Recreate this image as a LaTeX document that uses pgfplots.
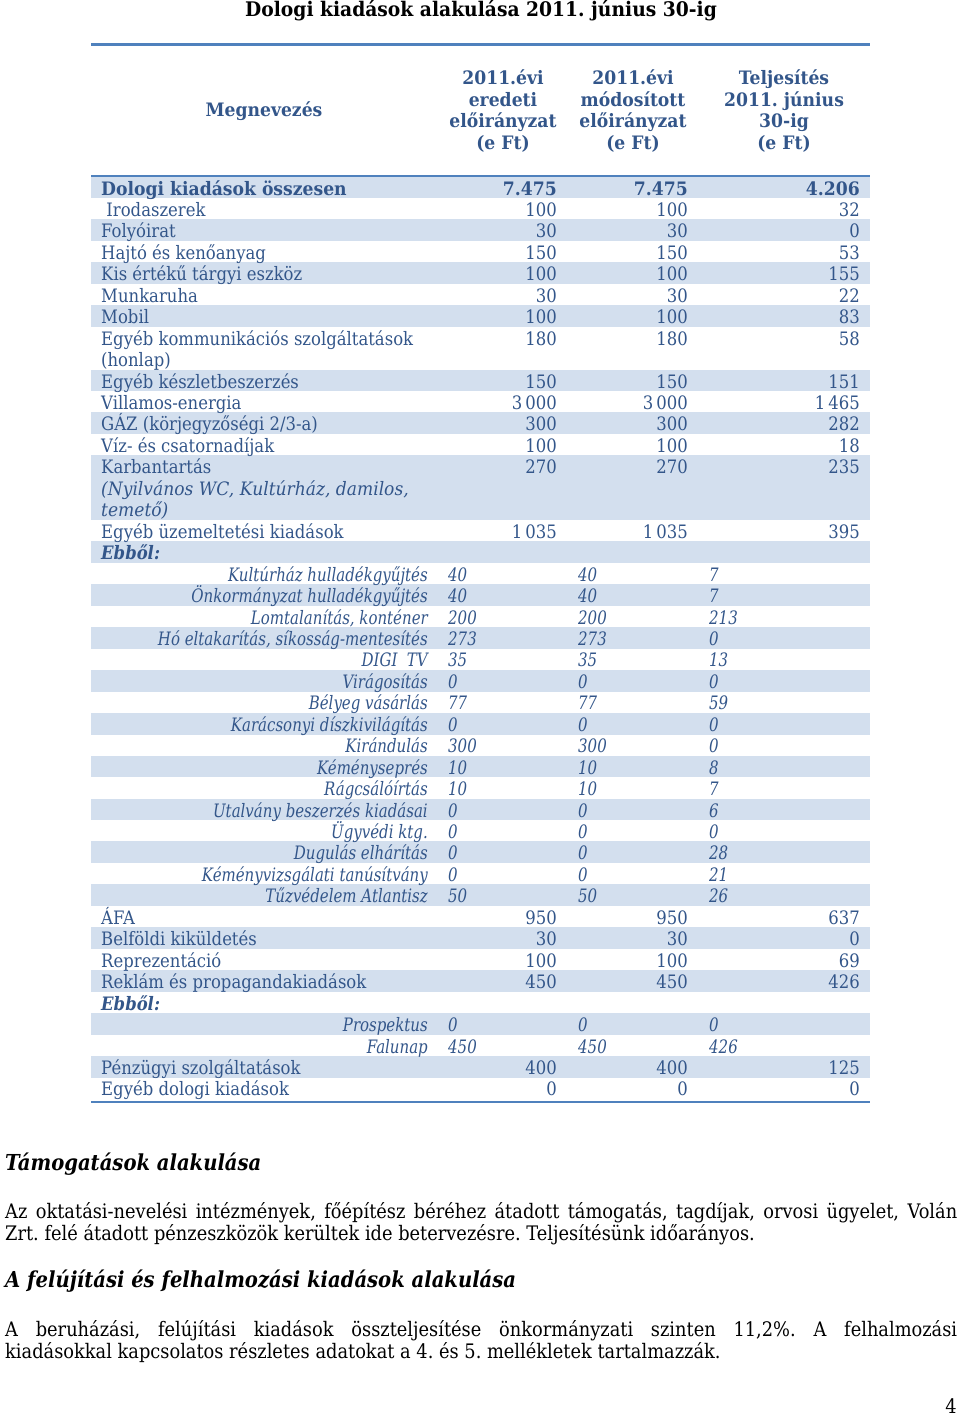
\documentclass[border=0pt]{standalone}
\usepackage{fontspec}
\setmainfont{DejaVu Serif}[
  UprightFeatures={FakeStretch=0.89},
  BoldFeatures={FakeStretch=0.93},
  ItalicFeatures={FakeStretch=0.81},
  BoldItalicFeatures={FakeStretch=0.89}]
\newfontfamily\itwide{DejaVu Serif}[FakeStretch=0.925]
\usepackage{pgfplots}
\usepackage{pgfplotstable}
\pgfplotsset{compat=1.18}
\definecolor{tblue}{HTML}{33568A}
\definecolor{tline}{HTML}{4F81BD}
\definecolor{rowshade}{HTML}{D3DFEE}
\newcommand\tf{\fontsize{18.5}{21.5}\selectfont}
\newcommand\pf{\fontsize{20}{23}\selectfont}
\frenchspacing

% main rows: line index and name
\pgfplotstableread[col sep=semicolon]{
n;name
1;\ Irodaszerek
2;Folyóirat
3;Hajtó és kenőanyag
4;Kis értékű tárgyi eszköz
5;Munkaruha
6;Mobil
7;Egyéb kommunikációs szolgáltatások
8;(honlap)
9;Egyéb készletbeszerzés
10;Villamos-energia
11;GÁZ (körjegyzőségi 2/3-a)
12;Víz- és csatornadíjak
13;Karbantartás
16;Egyéb üzemeltetési kiadások
34;ÁFA
35;Belföldi kiküldetés
36;Reprezentáció
37;Reklám és propagandakiadások
41;Pénzügyi szolgáltatások
42;Egyéb dologi kiadások
}\mainnames

\pgfplotstableread[col sep=semicolon]{
n;a;b;c
1;100;100;32
2;30;30;0
3;150;150;53
4;100;100;155
5;30;30;22
6;100;100;83
7;180;180;58
9;150;150;151
10;3\,000;3\,000;1\,465
11;300;300;282
12;100;100;18
13;270;270;235
16;1\,035;1\,035;395
34;950;950;637
35;30;30;0
36;100;100;69
37;450;450;426
41;400;400;125
42;0;0;0
}\mainvals

\pgfplotstableread[col sep=semicolon]{
n;name;a;b;c
0;Dologi kiadások összesen;7.475;7.475;4.206
}\total

\pgfplotstableread[col sep=semicolon]{
n;name
14;(Nyilvános WC, Kultúrház, damilos,
15;temető)
}\itnames

\pgfplotstableread[col sep=semicolon]{
n;name
17;Ebből:
38;Ebből:
}\ebbol

\pgfplotstableread[col sep=semicolon]{
n;name;a;b;c
18;Kultúrház hulladékgyűjtés;40;40;7
19;Önkormányzat hulladékgyűjtés;40;40;7
20;Lomtalanítás, konténer;200;200;213
21;Hó eltakarítás, síkosság-mentesítés;273;273;0
22;DIGI\ \ TV;35;35;13
23;Virágosítás;0;0;0
24;Bélyeg vásárlás;77;77;59
25;Karácsonyi díszkivilágítás;0;0;0
26;Kirándulás;300;300;0
27;Kéményseprés;10;10;8
28;Rágcsálóírtás;10;10;7
29;Utalvány beszerzés kiadásai;0;0;6
30;Ügyvédi ktg.;0;0;0
31;Dugulás elhárítás;0;0;28
32;Kéményvizsgálati tanúsítvány;0;0;21
33;Tűzvédelem Atlantisz;50;50;26
39;Prospektus;0;0;0
40;Falunap;450;450;426
}\subrows

\pgfplotsset{
  txt/.style 2 args={draw=none, mark=none, forget plot,
    point meta=explicit symbolic, nodes near coords,
    nodes near coords style={font={\tf#2}, text=tblue, anchor=#1, inner sep=0pt}},
}

\begin{document}
\begin{tikzpicture}
\begin{axis}[
  width=960pt, height=1418pt, scale only axis,
  xmin=0, xmax=960, ymin=0, ymax=1418, y dir=reverse,
  hide axis, clip=false,
]
\path (axis cs:0,0) rectangle (axis cs:960,1418);

% striped rows
\pgfplotsinvokeforeach{0,2,4,6,9,11,13,14,15,17,19,21,23,25,27,29,31,33,35,37,39,41}{
  \fill[rowshade] (axis cs:91,{176.5+21.45*#1}) rectangle (axis cs:870,{176.5+21.45*(#1+1)+0.3});
}

% rules
\draw[tline, line width=2.5pt] (axis cs:91,44.5) -- (axis cs:870,44.5);
\draw[tline, line width=2pt] (axis cs:91,175.5) -- (axis cs:870,175.5);
\draw[tline, line width=2pt] (axis cs:91,1101.5) -- (axis cs:870,1101.5);

% title
\node[anchor=base, inner sep=0pt, font={\fontsize{20.1}{24}\selectfont\bfseries}] at (axis cs:481,17) {Dologi kiadások alakulása 2011. június 30-ig};

% header
\begin{scope}[every node/.style={anchor=base, inner sep=0pt, text=tblue, font={\tf\bfseries}}]
\node at (axis cs:264,117) {Megnevezés};
\node at (axis cs:503,85) {2011.évi};
\node at (axis cs:503,106.5) {eredeti};
\node at (axis cs:503,128) {előirányzat};
\node at (axis cs:503,149.5) {(e Ft)};
\node at (axis cs:633,85) {2011.évi};
\node at (axis cs:633,106.5) {módosított};
\node at (axis cs:633,128) {előirányzat};
\node at (axis cs:633,149.5) {(e Ft)};
\node at (axis cs:784,85) {Teljesítés};
\node at (axis cs:784,106.5) {2011. június};
\node at (axis cs:784,128) {30-ig};
\node at (axis cs:784,149.5) {(e Ft)};
\end{scope}

% total row
\addplot[txt={base west}{\bfseries}] table[x expr=101, y expr={195+21.45*\thisrow{n}}, meta=name] {\total};
\addplot[txt={base east}{\bfseries}] table[x expr=557, y expr={195+21.45*\thisrow{n}}, meta=a] {\total};
\addplot[txt={base east}{\bfseries}] table[x expr=688, y expr={195+21.45*\thisrow{n}}, meta=b] {\total};
\addplot[txt={base east}{\bfseries}] table[x expr=860, y expr={195+21.45*\thisrow{n}}, meta=c] {\total};

% main rows
\addplot[txt={base west}{}] table[x expr=101, y expr={195+21.45*\thisrow{n}}, meta=name] {\mainnames};
\addplot[txt={base west}{\itwide\itshape}] table[x expr=101, y expr={195+21.45*\thisrow{n}}, meta=name] {\itnames};
\addplot[txt={base west}{\bfseries\itshape}] table[x expr=101, y expr={195+21.45*\thisrow{n}}, meta=name] {\ebbol};
\addplot[txt={base east}{}] table[x expr=557, y expr={195+21.45*\thisrow{n}}, meta=a] {\mainvals};
\addplot[txt={base east}{}] table[x expr=688, y expr={195+21.45*\thisrow{n}}, meta=b] {\mainvals};
\addplot[txt={base east}{}] table[x expr=860, y expr={195+21.45*\thisrow{n}}, meta=c] {\mainvals};

% sub rows
\addplot[txt={base east}{\itshape}] table[x expr=428, y expr={195+21.45*\thisrow{n}}, meta=name] {\subrows};
\addplot[txt={base west}{\itshape}] table[x expr=448, y expr={195+21.45*\thisrow{n}}, meta=a] {\subrows};
\addplot[txt={base west}{\itshape}] table[x expr=578, y expr={195+21.45*\thisrow{n}}, meta=b] {\subrows};
\addplot[txt={base west}{\itshape}] table[x expr=709, y expr={195+21.45*\thisrow{n}}, meta=c] {\subrows};

% text below the table
\begin{scope}[every node/.style={anchor=base west, inner sep=0pt, font=\pf}]
\node[font={\fontsize{22}{25}\selectfont\bfseries\itshape}] at (axis cs:5,1170) {Támogatások alakulása};
\node at (axis cs:5,1218) {\makebox[952pt][s]{Az oktatási-nevelési intézmények, főépítész béréhez átadott támogatás, tagdíjak, orvosi ügyelet, Volán}};
\node at (axis cs:5,1240.5) {Zrt. felé átadott pénzeszközök kerültek ide betervezésre. Teljesítésünk időarányos.};
\node[font={\fontsize{22}{25}\selectfont\bfseries\itshape}] at (axis cs:5,1287) {A felújítási és felhalmozási kiadások alakulása};
\node at (axis cs:5,1336.5) {\makebox[952pt][s]{A beruházási, felújítási kiadások összteljesítése önkormányzati szinten 11,2\%. A felhalmozási}};
\node at (axis cs:5,1358.5) {kiadásokkal kapcsolatos részletes adatokat a 4. és 5. mellékletek tartalmazzák.};
\node[anchor=base east] at (axis cs:957,1413) {4};
\end{scope}
\end{axis}
\end{tikzpicture}
\end{document}
